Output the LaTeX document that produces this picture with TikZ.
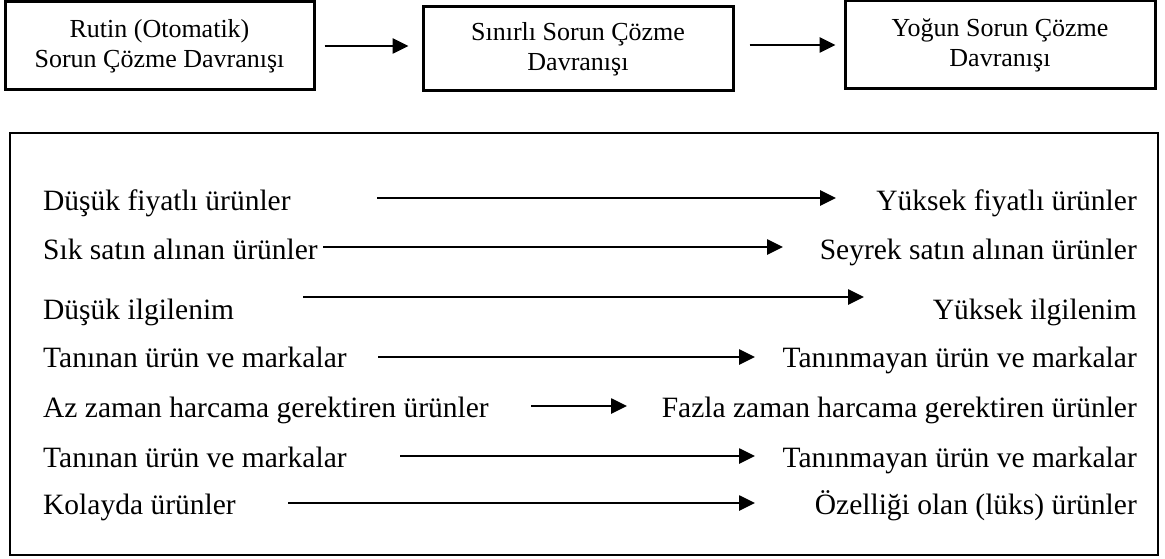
\documentclass[tikz,border=0pt]{standalone}
\usepackage{fontspec}
\setmainfont{Liberation Serif}
\usetikzlibrary{arrows.meta}
\begin{document}
\begin{tikzpicture}[x=1pt,y=-1pt,
  topbox/.style={draw, line width=3pt, align=center, inner sep=0pt, font=\fontsize{26}{30}\selectfont},
  bigbox/.style={draw, line width=2.6pt, inner sep=0pt},
  lefttext/.style={anchor=base west, inner sep=0pt, font=\fontsize{29.5}{34}\selectfont},
  righttext/.style={anchor=base east, inner sep=0pt, font=\fontsize{29.5}{34}\selectfont},
  arr/.style={line width=2.6pt, -{Triangle[length=16pt,width=15pt]}}]
\useasboundingbox (0,0) rectangle (1165,559);

% top boxes
\node[topbox, minimum width=309pt, minimum height=88pt] (b1) at (159.5,46) {Rutin (Otomatik)\\Sorun Çözme Davranışı};
\node[topbox, minimum width=310pt, minimum height=84pt] (b2) at (578,49) {Sınırlı Sorun Çözme\\Davranışı};
\node[topbox, minimum width=310pt, minimum height=88pt] (b3) at (1000,45) {Yoğun Sorun Çözme\\Davranışı};
\draw[arr] ([xshift=9pt]b1.east) -- ([xshift=-13pt]b1.east -| b2.west);
\draw[arr] ([xshift=15pt]b2.east |- b3.west) -- ([xshift=-8pt]b3.west);

% bottom frame
\node[bigbox, minimum width=1148pt, minimum height=422pt] (frame) at (584,344) {};

% rows
\node[lefttext] (l1) at (43,210) {Düşük fiyatlı ürünler};
\node[righttext] (r1) at (1137,210) {Yüksek fiyatlı ürünler};
\node[lefttext] (l2) at (43,259) {Sık satın alınan ürünler};
\node[righttext] (r2) at (1137,259) {Seyrek satın alınan ürünler};
\node[lefttext] (l3) at (43,319) {Düşük ilgilenim};
\node[righttext] (r3) at (1137,319) {Yüksek ilgilenim};
\node[lefttext] (l4) at (43,367) {Tanınan ürün ve markalar};
\node[righttext] (r4) at (1137,367) {Tanınmayan ürün ve markalar};
\node[lefttext] (l5) at (43,417) {Az zaman harcama gerektiren ürünler};
\node[righttext] (r5) at (1137,417) {Fazla zaman harcama gerektiren ürünler};
\node[lefttext] (l6) at (43,467) {Tanınan ürün ve markalar};
\node[righttext] (r6) at (1137,467) {Tanınmayan ürün ve markalar};
\node[lefttext] (l7) at (43,514) {Kolayda ürünler};
\node[righttext] (r7) at (1137,514) {Özelliği olan (lüks) ürünler};

\coordinate (s1) at (377,198); \coordinate (e1) at (836,198);
\coordinate (s2) at (323,247); \coordinate (e2) at (783,247);
\coordinate (s3) at (303,297); \coordinate (e3) at (864,297);
\coordinate (s4) at (378,357); \coordinate (e4) at (755,357);
\coordinate (s5) at (531,406); \coordinate (e5) at (627,406);
\coordinate (s6) at (400,456); \coordinate (e6) at (755,456);
\coordinate (s7) at (288,503); \coordinate (e7) at (755,503);
\foreach \i in {1,...,7} { \draw[arr] (s\i) -- (e\i); }
\end{tikzpicture}
\end{document}
